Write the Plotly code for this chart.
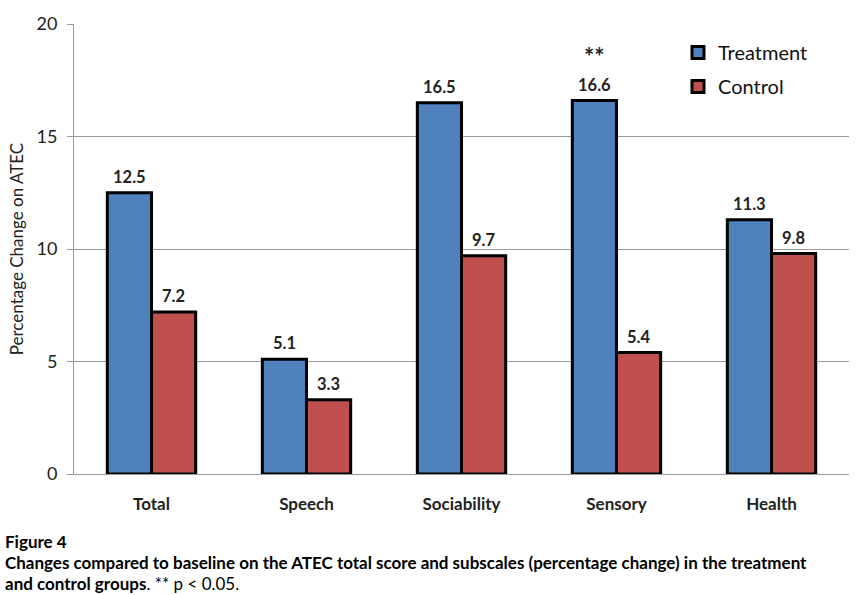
import plotly.graph_objects as go

categories = ["Total", "Speech", "Sociability", "Sensory", "Health"]
treatment = [12.5, 5.1, 16.5, 16.6, 11.3]
control = [7.2, 3.3, 9.7, 5.4, 9.8]
y_ticks = [0, 5, 10, 15, 20]

BLUE = "#4F81BD"
RED = "#C0504D"
FONT = "Lato"

fig = go.Figure()
fig.add_trace(go.Bar(name="Treatment", x=categories, y=treatment, legendgroup="t",
                     marker=dict(color=BLUE, line=dict(color="black", width=3))))
fig.add_trace(go.Bar(name="Control", x=categories, y=control, legendgroup="c",
                     marker=dict(color=RED, line=dict(color="black", width=3))))

off = 0.1435
annotations = []
for i, (t, c) in enumerate(zip(treatment, control)):
    annotations.append(dict(x=i - off, y=t, xref="x", yref="y", text=f"<b>{t}</b>", showarrow=False,
                            yanchor="bottom", yshift=4, font=dict(size=16.5, color="#222", family=FONT)))
    annotations.append(dict(x=i + off, y=c, xref="x", yref="y", text=f"<b>{c}</b>", showarrow=False,
                            yanchor="bottom", yshift=4, font=dict(size=16.5, color="#222", family=FONT)))
# significance marker
annotations.append(dict(x=3 - off, y=16.6, xref="x", yref="y", text="<b>**</b>", showarrow=False,
                        yanchor="bottom", yshift=28, font=dict(size=24, color="#222", family=FONT)))
# caption
cap_lines = [
    ("<b>Figure 4</b>", 541),
    ("<b>Changes compared to baseline on the ATEC total score and subscales (percentage change) in the treatment</b>", 562),
    ("<b>and control groups</b>. ** p &lt; 0.05.", 583),
]
for txt, ypx in cap_lines:
    annotations.append(dict(x=-74 / 775 + 3 / 775, y=(474 - ypx) / 450, xref="paper", yref="paper",
                            xanchor="left", yanchor="middle", align="left", text=txt, showarrow=False,
                            font=dict(size=17, color="black", family=FONT)))

fig.update_layout(
    width=860, height=595,
    margin=dict(l=74, r=11, t=24, b=121),
    paper_bgcolor="white", plot_bgcolor="white",
    barmode="group", bargap=0.43, bargroupgap=0,
    font=dict(family=FONT, color="#222"),
    showlegend=True,
    legend=dict(x=(678 - 74) / 775, y=(474 - 33) / 450, xanchor="left", yanchor="top", bgcolor="rgba(0,0,0,0)",
                font=dict(size=20, family=FONT, color="#111"), itemwidth=30, tracegroupgap=5,
                traceorder="grouped"),
    annotations=annotations,
)
fig.update_xaxes(showline=True, linecolor="#999", linewidth=1, ticks="", showgrid=False,
                 tickfont=dict(size=17, family=FONT, color="#222"), tickprefix="<b>", ticksuffix="</b>",
                 ticklabelstandoff=15)
fig.update_yaxes(range=[0, 20], tickvals=y_ticks, showgrid=True, gridcolor="#999", gridwidth=1,
                 showline=True, linecolor="#999", linewidth=1, ticks="outside", ticklen=6, tickcolor="#999",
                 tickfont=dict(size=18, family=FONT, color="#222"), tickprefix="<b>", ticksuffix="</b>",
                 ticklabelstandoff=6, zeroline=False,
                 title=dict(text="Percentage Change on ATEC", font=dict(size=17, family=FONT, color="#222"), standoff=8))

fig.write_html("out.html", config={"displayModeBar": False},
               post_script="document.body.style.margin='0';document.body.style.overflow='hidden';")
